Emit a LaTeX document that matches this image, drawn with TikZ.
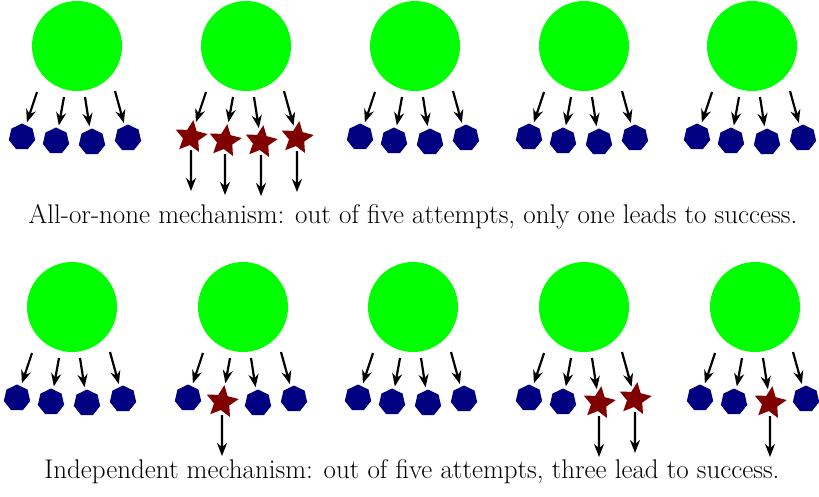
\documentclass[tikz,border=0pt]{standalone}
\usepackage{tikz}
\usetikzlibrary{arrows.meta,shapes.geometric}
\definecolor{beadgreen}{RGB}{0,255,0}
\definecolor{failblue}{RGB}{0,0,128}
\definecolor{hitred}{RGB}{128,0,0}
\tikzset{
  bead/.style={circle,fill=beadgreen,minimum size=90pt,inner sep=0pt},
  failure/.style={regular polygon,regular polygon sides=7,fill=failblue,minimum size=27pt,inner sep=0pt},
  success/.style={star,star points=5,star point ratio=2.1,fill=hitred,minimum size=34pt,inner sep=0pt},
  arrow/.style={-{Stealth[length=13pt,width=10pt]},line width=2.2pt,draw=black},
  caption/.style={font=\fontsize{27}{32}\selectfont}
}

\begin{document}
\begin{tikzpicture}[x=1pt,y=-1pt]
  \useasboundingbox (0,0) rectangle (819,496);
  % x / y / code (1 = success, leading 1 is a guard digit)
  \foreach \px/\py/\code [count=\n] in {77/46/10000, 246/46/11111, 415/46/10000, 584/46/10000, 752/46/10000,
                                         72/307/10000, 243/307/10100, 413/307/10000, 584/307/10011, 755/307/10010} {
    \node[bead] (c\n) at (\px,\py) {};
    \foreach \dx/\dy/\sx/\sy [count=\j] in {-55/91/-40/46, -21/95/-13/51, 15/96/8/51, 51/92/38/45} {
      \pgfmathtruncatemacro\hit{mod(floor(\code/10^(4-\j)),10)}
      \coordinate (s\n-\j) at (\px+\sx,\py+\sy);
      \ifnum\hit=1
        \node[success,rotate=-8] (o\n-\j) at (\px+\dx,\py+\dy) {};
        \coordinate (e\n-\j) at (\px+\dx,\py+\dy+54);
        \draw[arrow,shorten <=4pt] (o\n-\j) -- (e\n-\j);
      \else
        \node[failure] (o\n-\j) at (\px+\dx,\py+\dy) {};
      \fi
      \draw[arrow,shorten >=3pt] (s\n-\j) -- (o\n-\j);
    }
  }

  \node[caption] (allornone) at (413,217) {All-or-none mechanism: out of five attempts, only one leads to success.};
  \node[caption] (independent) at (412,472) {Independent mechanism: out of five attempts, three lead to success.};
\end{tikzpicture}
\end{document}
